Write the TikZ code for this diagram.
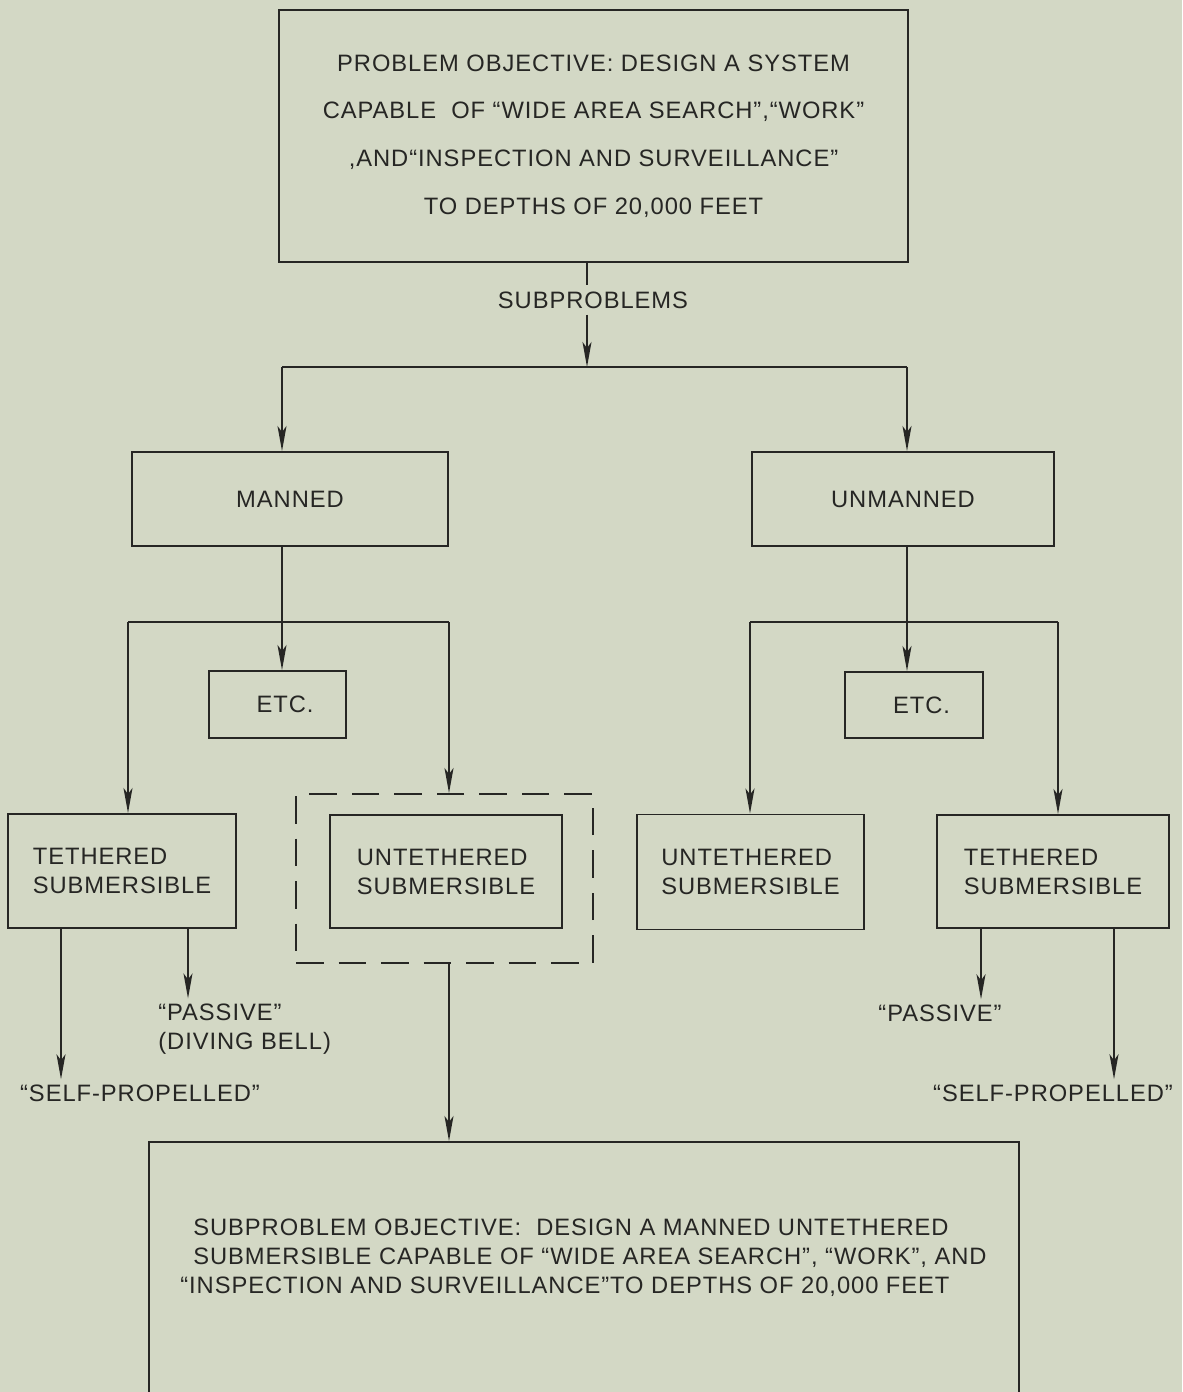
\documentclass[tikz,border=0pt]{standalone}
\usepackage{fontspec}
\setmainfont[LetterSpace=4]{Liberation Sans}
\definecolor{paper}{RGB}{211,216,197}
\definecolor{ink}{RGB}{38,38,36}
\usetikzlibrary{arrows.meta, calc}

\begin{document}
\begin{tikzpicture}[
    probbox/.style={draw=ink, line width=1.1pt, inner sep=0pt, align=center, text=ink, font=\fontsize{13.5}{16.5}\selectfont},
    leftbox/.style={probbox, align=left},
    dashbox/.style={draw=ink, line width=1.1pt, inner sep=0pt, dash pattern=on 0.55cm off 0.3cm},
    note/.style={inner sep=0.1cm, align=left, text=ink, font=\fontsize{13.5}{16.5}\selectfont},
    link/.style={draw=ink, line width=1.1pt},
    >={Stealth[length=0.5cm, width=0.18cm, inset=0.12cm]}
]
  \useasboundingbox (0,0) rectangle (23.64,-27.84);
  \fill[paper] (0,0) rectangle (23.64,-27.84);

  % problem and first split
  \node[probbox, minimum width=12.58cm, minimum height=5.04cm, font=\fontsize{13.5}{27.2}\selectfont] (goal) at (11.87,-2.72)
    {PROBLEM OBJECTIVE: DESIGN A SYSTEM\\CAPABLE\ \ OF ``WIDE AREA SEARCH'',``WORK''\\,AND``INSPECTION AND SURVEILLANCE''\\TO DEPTHS OF 20,000 FEET};
  \node[note, inner ysep=0.12cm] (sub) at (11.86,-6.00) {SUBPROBLEMS};
  \coordinate (split) at (11.74,-7.34);
  \coordinate (topL) at (5.64,-7.34);
  \coordinate (topR) at (18.14,-7.34);

  \node[probbox, minimum width=6.32cm, minimum height=1.88cm] (manned) at (5.80,-9.98) {MANNED};
  \node[probbox, minimum width=6.04cm, minimum height=1.88cm] (unmanned) at (18.06,-9.98) {UNMANNED};

  \draw[link] (goal.south -| split) -- (sub.north -| split);
  \draw[link, ->] (sub.south -| split) -- (split);
  \draw[link] (topL) -- (topR);
  \draw[link, ->] (topL) -- (topL |- manned.north);
  \draw[link, ->] (topR) -- (topR |- unmanned.north);

  % manned branch
  \coordinate (mL) at (2.56,-12.44);
  \coordinate (mM) at (5.64,-12.44);
  \coordinate (mR) at (8.98,-12.44);
  \node[probbox, minimum width=2.74cm, minimum height=1.34cm] (etcL) at (5.55,-14.09) {\hspace{0.3cm}ETC.};
  \node[leftbox, minimum width=4.56cm, minimum height=2.28cm] (tethL) at (2.44,-17.42) {TETHERED\\SUBMERSIBLE};
  \node[dashbox, minimum width=5.94cm, minimum height=3.38cm] (dash) at (8.89,-17.57) {};
  \node[leftbox, minimum width=4.64cm, minimum height=2.26cm] (untethL) at (8.92,-17.43) {UNTETHERED\\SUBMERSIBLE};

  \draw[link] (manned.south -| mM) -- (mM);
  \draw[link] (mL) -- (mR);
  \draw[link, ->] (mM) -- (etcL.north -| mM);
  \draw[link, ->] (mL) -- (tethL.north -| mL);
  \draw[link, ->] (mR) -- (dash.north -| mR);

  \node[note] (selfL) at (2.80,-21.86) {``SELF-PROPELLED''};
  \node[note, anchor=west] (passL) at (3.06,-20.58) {``PASSIVE''\\(DIVING BELL)};
  \coordinate (sL) at (1.22,-18.56);
  \coordinate (pL) at (3.76,-18.56);
  \draw[link, ->] (sL) -- (sL |- selfL.north);
  \draw[link, ->] (pL) -- (pL |- passL.north);

  % unmanned branch
  \coordinate (uL) at (15.00,-12.44);
  \coordinate (uM) at (18.14,-12.44);
  \coordinate (uR) at (21.16,-12.44);
  \node[probbox, minimum width=2.76cm, minimum height=1.32cm] (etcR) at (18.28,-14.10) {\hspace{0.3cm}ETC.};
  \node[leftbox, minimum width=4.54cm, minimum height=2.30cm] (untethR) at (15.01,-17.44) {UNTETHERED\\SUBMERSIBLE};
  \node[leftbox, minimum width=4.64cm, minimum height=2.26cm] (tethR) at (21.06,-17.43) {TETHERED\\SUBMERSIBLE};

  \draw[link] (unmanned.south -| uM) -- (uM);
  \draw[link] (uL) -- (uR);
  \draw[link, ->] (uM) -- (etcR.north -| uM);
  \draw[link, ->] (uL) -- (untethR.north -| uL);
  \draw[link, ->] (uR) -- (tethR.north -| uR);

  \node[note] (passR) at (18.80,-20.26) {``PASSIVE''};
  \node[note] (selfR) at (21.06,-21.86) {``SELF-PROPELLED''};
  \coordinate (pR) at (19.62,-18.56);
  \coordinate (sR) at (22.28,-18.56);
  \draw[link, ->] (pR) -- (pR |- passR.north);
  \draw[link, ->] (sR) -- (sR |- selfR.north);

  % chosen subproblem
  \node[probbox, anchor=north, minimum width=17.40cm, minimum height=5.6cm] (subgoal) at (11.68,-22.82) {};
  \node[note, anchor=west] (subtext) at (3.50,-25.16)
    {\hspace*{0.26cm}SUBPROBLEM OBJECTIVE:\ \ DESIGN A MANNED UNTETHERED\\\hspace*{0.26cm}SUBMERSIBLE CAPABLE OF ``WIDE AREA SEARCH'', ``WORK'', AND\\``INSPECTION AND SURVEILLANCE''TO DEPTHS OF 20,000 FEET};
  \draw[link, ->] (dash.south -| mR) -- (subgoal.north -| mR);
\end{tikzpicture}
\end{document}
